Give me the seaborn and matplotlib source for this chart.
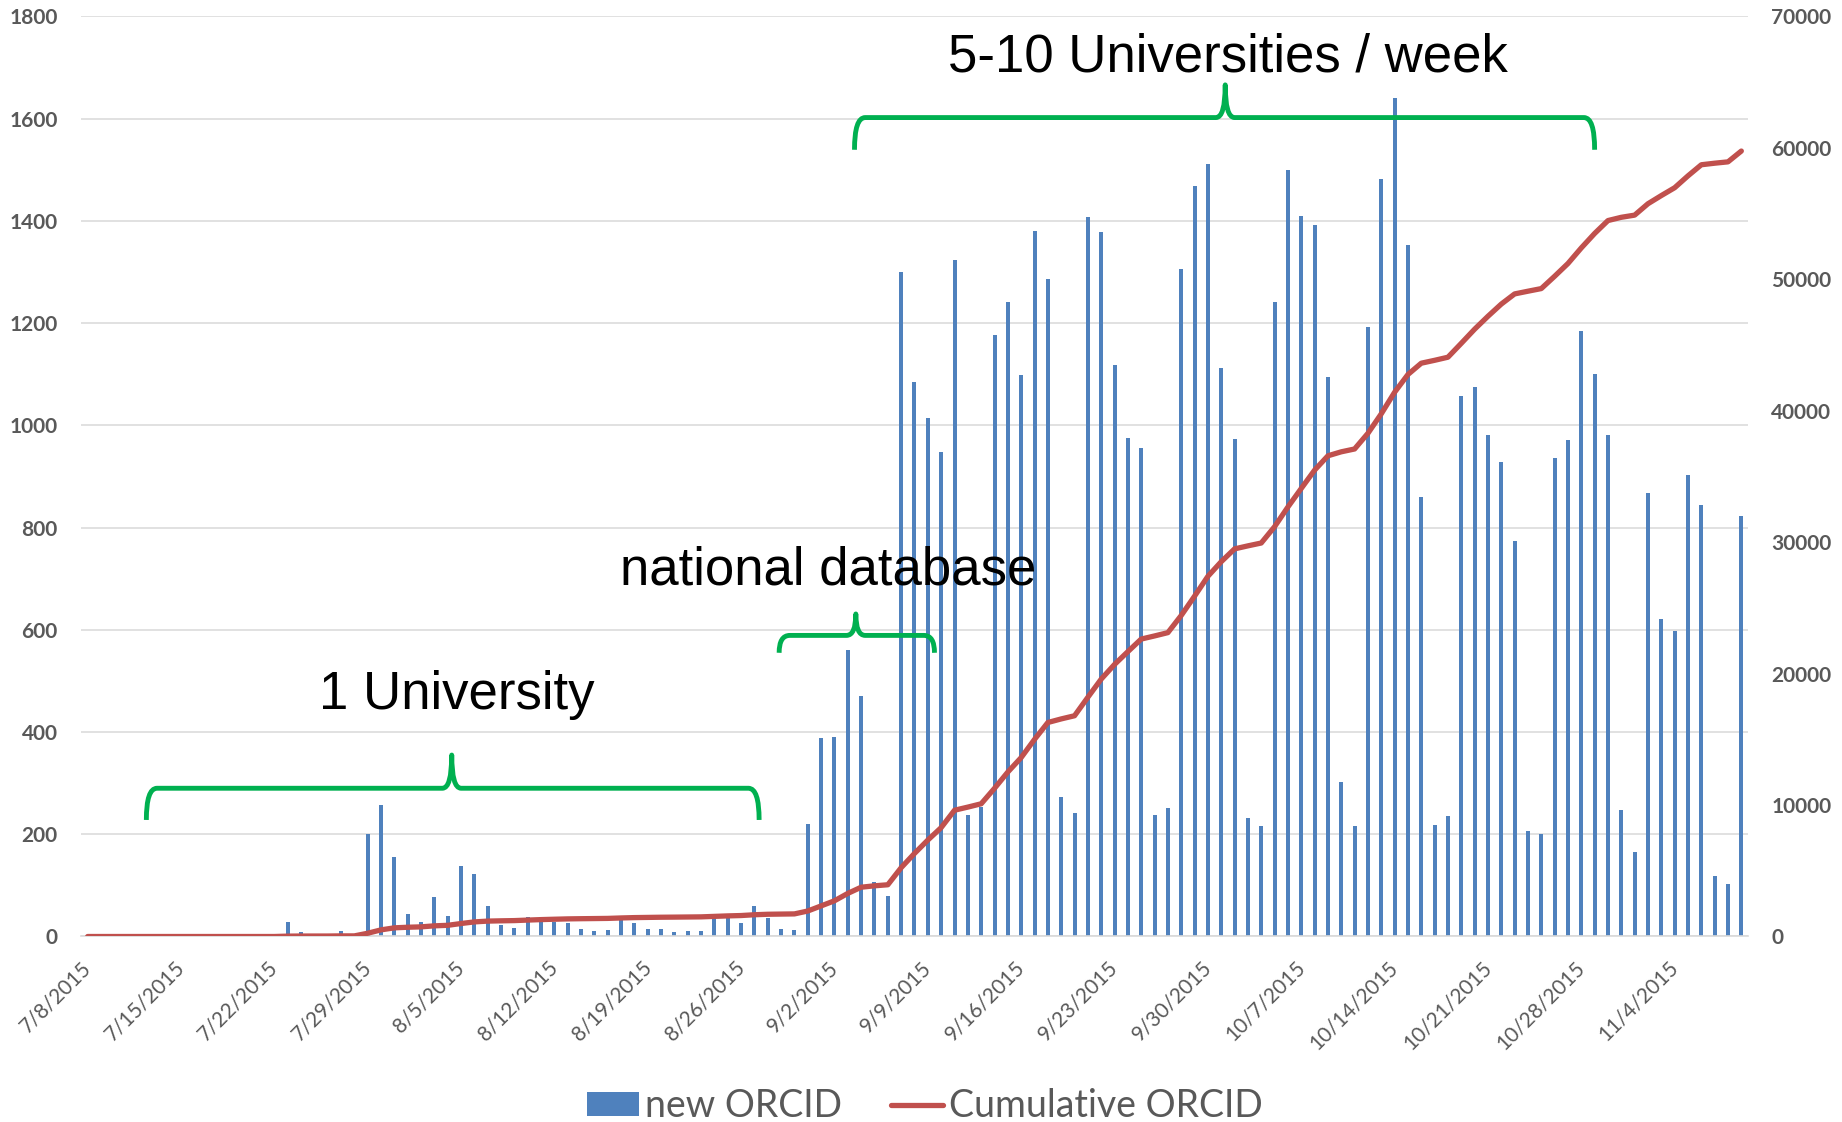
import pandas as pd
import seaborn as sns
import matplotlib.pyplot as plt
from matplotlib.path import Path
from matplotlib.patches import PathPatch, Patch
from matplotlib.lines import Line2D
import numpy as np

# new ORCID iDs per day, 7/8/2015 .. 11/9/2015 (one row = one week)
new_orcid = [
    0, 0, 0, 0, 0, 0, 0,
    0, 0, 0, 0, 0, 0, 0,
    0, 28, 8, 0, 0, 11, 0,
    201, 257, 155, 44, 29, 78, 40,
    137, 123, 60, 22, 17, 39, 37,
    28, 26, 14, 11, 12, 34, 27,
    14, 14, 8, 10, 10, 37, 37,
    27, 60, 37, 14, 13, 221, 388,
    390, 561, 470, 107, 80, 1299, 1085,
    1015, 948, 1323, 238, 253, 1176, 1241,
    1099, 1381, 1286, 272, 241, 1408, 1379,
    1117, 975, 955, 238, 251, 1306, 1468,
    1511, 1112, 974, 231, 216, 1241, 1500,
    1409, 1391, 1094, 303, 216, 1192, 1482,
    1640, 1352, 860, 219, 236, 1057, 1075,
    982, 928, 773, 206, 200, 937, 972,
    1185, 1100, 981, 248, 165, 867, 621,
    597, 903, 844, 118, 103, 822,
]

week_labels = ['7/8/2015', '7/15/2015', '7/22/2015', '7/29/2015', '8/5/2015',
               '8/12/2015', '8/19/2015', '8/26/2015', '9/2/2015', '9/9/2015',
               '9/16/2015', '9/23/2015', '9/30/2015', '10/7/2015', '10/14/2015',
               '10/21/2015', '10/28/2015', '11/4/2015']

left_ticks = [0, 200, 400, 600, 800, 1000, 1200, 1400, 1600, 1800]
right_ticks = [0, 10000, 20000, 30000, 40000, 50000, 60000, 70000]

# annotation text: (label, day, baseline value on left axis)
notes = [
    ("1 University", 27.7, 446),
    ("national database", 55.5, 688),
    ("5-10 Universities / week", 85.5, 1693),
]
# braces: (start day, end day, tip day, end value, bar value, tip value)
braces = [
    (4.4, 50.35, 27.3, 228, 290, 355),
    (51.85, 63.5, 57.6, 555, 589, 631),
    (57.5, 113.0, 85.3, 1539, 1602, 1666),
]

df = pd.DataFrame({'new': new_orcid})
df['day'] = np.arange(len(df))
df['cumulative'] = df['new'].cumsum()

BLUE = '#4F81BD'
RED = '#C0504D'
GREEN = '#00B050'
GREY = '#595959'
GRID = '#D9D9D9'

sns.set_theme(style='white')
plt.rcParams['font.family'] = ['Lato', 'DejaVu Sans']

fig = plt.figure(figsize=(18.42, 11.22), dpi=100)
ax = fig.add_axes([0.04397, 0.16533, 0.905, 0.8201])

sns.barplot(x='day', y='new', data=df, ax=ax, color=BLUE, saturation=1,
            width=0.3, errorbar=None, linewidth=0, edgecolor='none', zorder=2)
ax.set_xlim(-0.5, len(df) - 0.5)
ax.set_ylim(0, 1800)
ax.set_yticks(left_ticks)
ax.set_yticklabels([str(t) for t in left_ticks], fontsize=15, fontweight='bold', color=GREY)
ax.set_xticks(np.arange(0, len(df), 7) - 0.5)
ax.set_xticklabels(week_labels, rotation=45, ha='right', rotation_mode='anchor',
                   fontsize=15, color=GREY)
ax.tick_params(axis='x', length=6, width=1.2, color=GRID, pad=9, direction='out')
ax.tick_params(axis='y', length=0, pad=16.8)
ax.yaxis.grid(True, color=GRID, linewidth=1.1)
ax.set_axisbelow(True)
ax.set_xlabel('')
ax.set_ylabel('')
for s in ['top', 'right', 'left']:
    ax.spines[s].set_visible(False)
ax.spines['bottom'].set_color(GRID)
ax.spines['bottom'].set_linewidth(1.2)

ax2 = ax.twinx()
sns.lineplot(x='day', y='cumulative', data=df, ax=ax2, color=RED, linewidth=3.8,
             solid_capstyle='round')
ax2.set_ylim(0, 70000)
ax2.set_yticks(right_ticks)
ax2.set_yticklabels([str(t) for t in right_ticks], fontsize=15, fontweight='bold', color=GREY)
ax2.tick_params(axis='y', length=0, pad=16.8)
ax2.set_ylabel('')
ax2.grid(False)
for s in ax2.spines.values():
    s.set_visible(False)
ax2.set_xlim(-0.5, len(df) - 0.5)

# green braces
r, w = 0.8, 0.7
for x0, x1, xc, y_end, y_h, y_tip in braces:
    verts = [(x0, y_end), (x0, y_h), (x0 + r, y_h),
             (xc - w, y_h), (xc, y_h), (xc, y_tip),
             (xc, y_h), (xc + w, y_h),
             (x1 - r, y_h), (x1, y_h), (x1, y_end)]
    codes = [Path.MOVETO, Path.CURVE3, Path.CURVE3,
             Path.LINETO, Path.CURVE3, Path.CURVE3,
             Path.CURVE3, Path.CURVE3,
             Path.LINETO, Path.CURVE3, Path.CURVE3]
    ax2.add_patch(PathPatch(Path(verts, codes), transform=ax.transData, fill=False,
                            edgecolor=GREEN, linewidth=3.5, capstyle='butt',
                            joinstyle='round', zorder=4))

for label, xd, yv in notes:
    ax2.text(xd, yv, label, transform=ax.transData, ha='center', va='baseline',
             fontsize=38, family=['Liberation Sans', 'DejaVu Sans'], color='black', zorder=5)

handles = [Patch(facecolor=BLUE, edgecolor='none', label='new ORCID'),
           Line2D([0], [0], color=RED, linewidth=3.8, solid_capstyle='round',
                  label='Cumulative ORCID')]
leg = fig.legend(handles=handles, loc='center', bbox_to_anchor=(0.502, 0.014), ncol=2,
                 frameon=False, fontsize=27, handlelength=1.4, handleheight=0.6,
                 handletextpad=0.15, columnspacing=1.3)
for t in leg.get_texts():
    t.set_color(GREY)

fig.savefig('out.png', dpi=100)
